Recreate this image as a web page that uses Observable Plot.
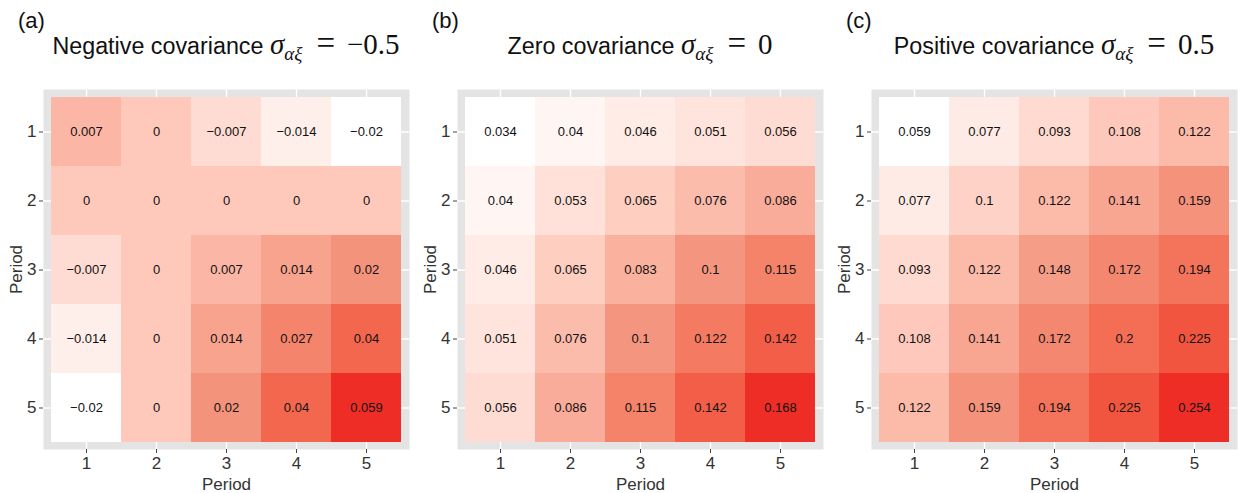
<!DOCTYPE html>
<html>
<head>
<meta charset="utf-8">
<script src="https://cdn.jsdelivr.net/npm/d3@7"></script>
<script src="https://cdn.jsdelivr.net/npm/@observablehq/plot@0.6"></script>
<style>
  html, body { margin: 0; padding: 0; background: #fff; }
  #root { position: relative; width: 1238px; height: 493px; overflow: hidden; font-family: "Liberation Sans", Arial, sans-serif; }
  .tag { position: absolute; top: 8px; font-size: 22px; color: #111; font-family: "Liberation Sans", Arial, sans-serif; }
  .title { position: absolute; top: 28px; width: 460px; text-align: center; font-size: 23.3px; color: #111; white-space: nowrap; font-family: "Liberation Sans", Arial, sans-serif; }
  .math { font-family: "Liberation Serif", "DejaVu Serif", serif; font-size: 29px; }
  .math i { font-style: italic; }
  .math sub { font-size: 19px; vertical-align: -6px; line-height: 0; }
  .math .eq { padding: 0 12px 0 14px; font-size: 33px; line-height: 0; }
  .panel { position: absolute; top: 80px; }
</style>
</head>
<body>
<div id="root"></div>
<script>
// ---- data ----
const periods = [1, 2, 3, 4, 5];
const panelTags = ["(a)", "(b)", "(c)"];
const panelNames = ["Negative covariance", "Zero covariance", "Positive covariance"];
const panelSigma = ["\u22120.5", "0", "0.5"];
// rows = period (y), columns = period (x)
const negVals = [
  [0.007, 0, -0.007, -0.014, -0.02],
  [0, 0, 0, 0, 0],
  [-0.007, 0, 0.007, 0.014, 0.02],
  [-0.014, 0, 0.014, 0.027, 0.04],
  [-0.02, 0, 0.02, 0.04, 0.059]
];
const zeroVals = [
  [0.034, 0.04, 0.046, 0.051, 0.056],
  [0.04, 0.053, 0.065, 0.076, 0.086],
  [0.046, 0.065, 0.083, 0.1, 0.115],
  [0.051, 0.076, 0.1, 0.122, 0.142],
  [0.056, 0.086, 0.115, 0.142, 0.168]
];
const posVals = [
  [0.059, 0.077, 0.093, 0.108, 0.122],
  [0.077, 0.1, 0.122, 0.141, 0.159],
  [0.093, 0.122, 0.148, 0.172, 0.194],
  [0.108, 0.141, 0.172, 0.2, 0.225],
  [0.122, 0.159, 0.194, 0.225, 0.254]
];
const panelVals = [negVals, zeroVals, posVals];

// ---- layout ----
const root = document.getElementById("root");
const grayLefts = [43, 457, 871];
const mL = 44, mR = 4, mT = 9, mB = 44;
const innerW = 366, innerH = 360;

panelVals.forEach((vals, p) => {
  const rows = [];
  vals.forEach((r, i) => r.forEach((v, j) => rows.push({row: periods[i], col: periods[j], v})));
  const [lo, hi] = d3.extent(rows, d => d.v);

  const left = grayLefts[p] - mL;
  const tag = document.createElement("div");
  tag.className = "tag";
  tag.style.left = (grayLefts[p] - 25) + "px";
  tag.textContent = panelTags[p];
  root.appendChild(tag);

  const title = document.createElement("div");
  title.className = "title";
  title.style.left = (grayLefts[p] + innerW / 2 - 230) + "px";
  title.innerHTML = panelNames[p] + ' <span class="math"><i>\u03C3</i><sub><i>\u03B1\u03BE</i></sub><span class="eq">=</span>' + panelSigma[p] + '</span>';
  root.appendChild(title);

  const chart = Plot.plot({
    width: mL + innerW + mR,
    height: mT + innerH + mB,
    marginLeft: mL, marginRight: mR, marginTop: mT, marginBottom: mB,
    style: {fontFamily: "Liberation Sans, Arial, sans-serif", background: "transparent"},
    x: {type: "band", domain: periods, padding: 0, inset: 7},
    y: {type: "band", domain: periods, padding: 0, inset: 7},
    color: {type: "linear", domain: [lo, (lo + hi) / 2, hi], range: ["#ffffff", "#f4947d", "#ee2e26"], interpolate: "lab"},
    marks: [
      Plot.frame({fill: "#e4e4e4", stroke: null}),
      Plot.gridX({stroke: "white", strokeOpacity: 1, strokeWidth: 1.3}),
      Plot.gridY({stroke: "white", strokeOpacity: 1, strokeWidth: 1.3}),
      Plot.cell(rows, {x: "col", y: "row", fill: "v", inset: 0, shapeRendering: "crispEdges"}),
      Plot.text(rows, {x: "col", y: "row", text: d => String(d.v).replace("-", "\u2212"), fontSize: 13, fill: "#111"}),
      Plot.axisX({fontSize: 17, tickSize: 4, tickPadding: 3, stroke: "#444", color: "#333", label: "Period", labelAnchor: "center", labelOffset: 40}),
      Plot.axisY({fontSize: 17, tickSize: 4, tickPadding: 3, stroke: "#444", color: "#333", label: "Period", labelAnchor: "center", labelOffset: 34})
    ]
  });
  chart.classList.add("panel");
  chart.style.left = left + "px";
  root.appendChild(chart);
});
</script>
</body>
</html>
